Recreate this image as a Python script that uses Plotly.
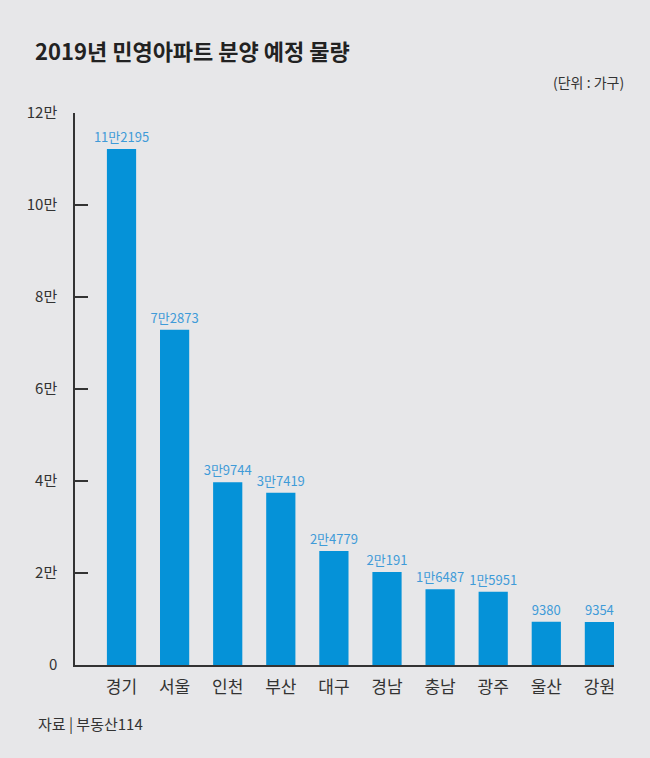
import plotly.graph_objs as go

regions = ["경기", "서울", "인천", "부산", "대구", "경남", "충남", "광주", "울산", "강원"]
supply = [112195, 72873, 39744, 37419, 24779, 20191, 16487, 15951, 9380, 9354]
y_ticks = [0, 20000, 40000, 60000, 80000, 100000, 120000]
y_tick_labels = ["0", "2만", "4만", "6만", "8만", "10만", "12만"]

FONT = "Noto Sans CJK KR"
BG = "#e7e7e9"
BAR = "#0592d8"
LABEL = "#3f9bd8"

W, H = 650, 758
L, R, T, B = 75, 36, 113, 93


def fmt_man(v):
    man, rest = divmod(v, 10000)
    if man == 0:
        return str(rest)
    return "%d만%d" % (man, rest)


def px_x(x):
    return (x - L) / (W - L - R)


def px_y(y):
    return 1 - (y - T) / (H - T - B)


fig = go.Figure()
fig.add_trace(go.Bar(x=regions, y=supply, marker=dict(color=BAR, line=dict(width=0)),
                     width=0.55, text=[fmt_man(v) for v in supply], textposition="outside",
                     constraintext="none",
                     textfont=dict(family=FONT, size=13, color=LABEL), cliponaxis=False,
                     hoverinfo="skip"))

fig.update_layout(width=W, height=H, paper_bgcolor=BG, plot_bgcolor=BG, showlegend=False,
                  margin=dict(l=L, r=R, t=T, b=B), font=dict(family=FONT, color="#333333"))

fig.update_xaxes(range=[-0.876, 9.275], showline=True, linecolor="#333333", linewidth=1.5,
                 ticks="", showgrid=False, tickfont=dict(size=17, color="#333333"),
                 ticklabelstandoff=6)
fig.update_yaxes(range=[0, 120000], tickvals=y_ticks, ticktext=y_tick_labels, showline=True,
                 linecolor="#333333", linewidth=1.5, ticks="inside", ticklen=13, tickwidth=1.5,
                 tickcolor="#333333", showgrid=False, zeroline=False,
                 tickfont=dict(size=15, color="#333333"), ticklabelstandoff=13)

fig.add_annotation(text="<b>2019년 민영아파트 분양 예정 물량</b>", xref="paper", yref="paper",
                   x=px_x(33), y=px_y(50), xanchor="left", yanchor="middle", showarrow=False,
                   font=dict(size=22, color="#222222"))
fig.add_annotation(text="(단위 : 가구)", xref="paper", yref="paper",
                   x=px_x(626), y=px_y(82), xanchor="right", yanchor="middle", showarrow=False,
                   font=dict(size=14, color="#333333"))
fig.add_annotation(text="자료 | 부동산114", xref="paper", yref="paper",
                   x=px_x(36), y=px_y(723), xanchor="left", yanchor="middle", showarrow=False,
                   font=dict(size=15, color="#333333"))

fig.write_html("out.html", config={"displayModeBar": False},
               post_script="document.body.style.margin='0';")
